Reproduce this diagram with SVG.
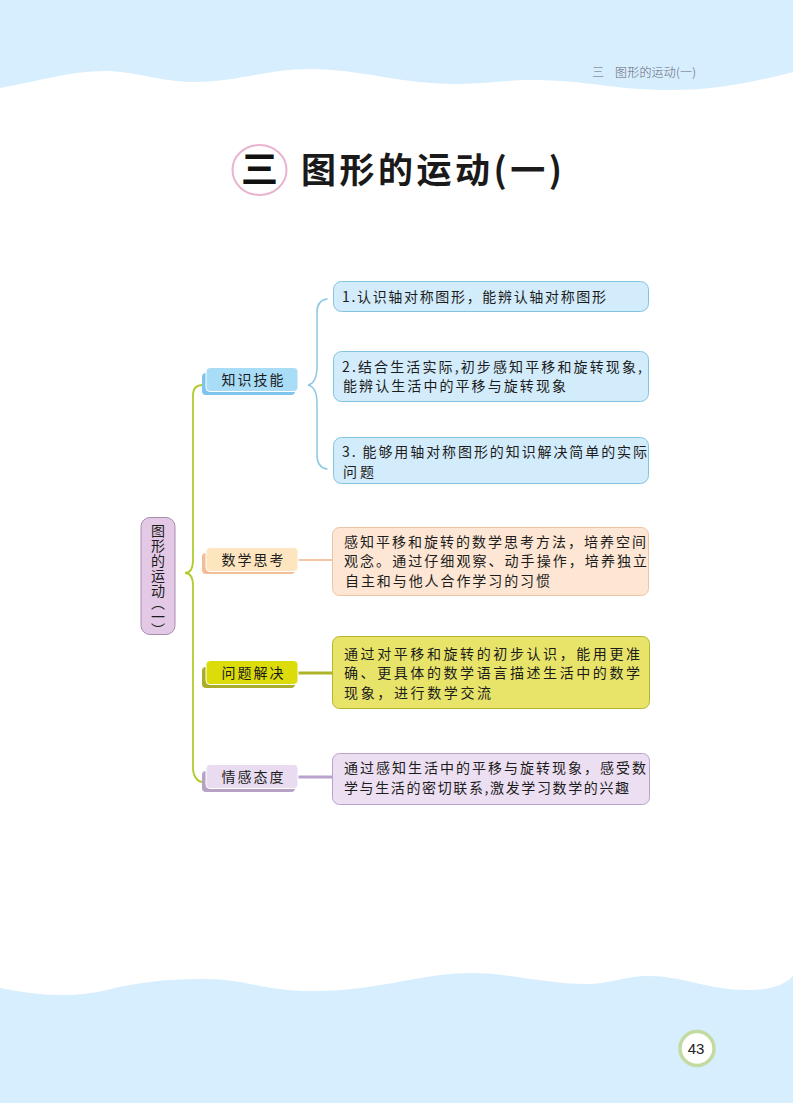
<svg xmlns="http://www.w3.org/2000/svg" width="793" height="1103" viewBox="0 0 793 1103">
<style>
text{font-family:"Noto Sans CJK SC","Noto Sans",sans-serif;fill:#1c1c1c;font-size:14px}
.t{font-size:14px;font-weight:400}
.c{fill:none;stroke-linecap:round}
.wave{fill:#d6eefd}
.lab{text-anchor:middle;font-size:14px}
.front{stroke:#fff;stroke-width:1}
</style>
<path class="wave" d="M0 0H793V72C755 82 715 90 672 90C610 90 590 80 530 80C505 80 490 84 455 84C400 84 360 69 310 69C265 69 240 82 195 82C160 82 135 71 104 71C70 71 35 82 0 88Z"/>
<path class="wave" d="M0 988C20 992 40 995 60 995C80 995 95 993 111 989C135 983 165 979 202 979C250 979 260 991 314 991C380 991 420 973 471 973C510 973 545 984 587 984C610 984 625 976 648 976C685 976 705 990 749 990C770 990 785 985 793 976V1103H0Z"/>
<text x="592" y="77" style="font-size:12px;font-weight:300;fill:#667">三</text>
<text x="615" y="77" textLength="81" style="font-size:12px;font-weight:300;fill:#667">图形的运动(一)</text>
<g id="title">
<ellipse cx="259.500" cy="170" rx="27" ry="25" fill="#fff" stroke="#e9b3cf" stroke-width="2"/>
<text x="259.500" y="183" text-anchor="middle" style="font-size:37px;font-weight:700;fill:#111">三</text>
<text x="301" y="183" textLength="261" style="font-size:35px;font-weight:700;fill:#1a1a1a">图形的运动(一)</text>
</g>
<g id="connectors">
<path class="c" stroke="#b2cc2e" stroke-width="1.800" d="M203 385C197 385 193 388 193 395V560C193 570 190 573 185 573C190 573 193 576 193 586V768C193 776 197 781 202 782"/>
<path class="c" stroke="#8cc7e4" stroke-width="1.500" d="M327 299C320 300 317 304 317 312V366C317 378 313 384 308 385C313 386 317 392 317 404V455C317 463 320 468 327 469"/>
<path stroke="#f2c6a6" stroke-width="2" d="M298 560H332"/>
<path stroke="#aeb42a" stroke-width="3" d="M298 673H332"/>
<path stroke="#b9a2cb" stroke-width="3" d="M298 777H332"/>
</g>
<g id="root">
<rect x="141" y="517.500" width="34" height="117" rx="9" fill="#e3c9e6" stroke="#a98ab0" stroke-width="1"/>
<text x="158" y="524 539 554 569 584 596 610 623" writing-mode="vertical-rl">图形的运动（一）</text>
</g>
<g id="n-zhishi">
<rect x="202" y="373" width="93" height="22" rx="4" fill="#7fc4ec"/>
<rect class="front" x="206" y="367.500" width="92" height="24" rx="4" fill="#a9dcf7"/>
<text class="lab" x="252.500" y="385" textLength="62">知识技能</text>
</g>
<g id="n-shuxue">
<rect x="202" y="553" width="93" height="21" rx="4" fill="#f3bd98"/>
<rect class="front" x="206" y="547.500" width="92" height="24" rx="4" fill="#fde5bf"/>
<text class="lab" x="252.500" y="565" textLength="62">数学思考</text>
</g>
<g id="n-wenti">
<rect x="202" y="667" width="93" height="21" rx="4" fill="#a9ad28"/>
<rect class="front" x="206" y="660.500" width="92" height="24" rx="4" fill="#dcdc0a"/>
<text class="lab" x="252.500" y="678" textLength="62">问题解决</text>
</g>
<g id="n-qinggan">
<rect x="202" y="771" width="93" height="21" rx="4" fill="#b7a2c6"/>
<rect class="front" x="206" y="764.500" width="92" height="24" rx="4" fill="#e9dcf0"/>
<text class="lab" x="252.500" y="782" textLength="62">情感态度</text>
</g>
<g id="b1">
<rect x="333.500" y="281.500" width="315" height="30" rx="8" fill="#d3ecfb" stroke="#82c4e0"/>
<text class="t" x="342" y="302" textLength="264">1.认识轴对称图形，能辨认轴对称图形</text>
</g>
<g id="b2">
<rect x="333.500" y="351.500" width="315" height="50" rx="8" fill="#d3ecfb" stroke="#82c4e0"/>
<text class="t" x="342" y="372" textLength="300">2.结合生活实际,初步感知平移和旋转现象,</text>
<text class="t" x="343" y="391" textLength="223">能辨认生活中的平移与旋转现象</text>
</g>
<g id="b3">
<rect x="333.500" y="437.500" width="315" height="46" rx="8" fill="#d3ecfb" stroke="#82c4e0"/>
<text class="t" x="342" y="457" textLength="305">3. 能够用轴对称图形的知识解决简单的实际</text>
<text class="t" x="343" y="477" textLength="31">问题</text>
</g>
<g id="b4">
<rect x="332.500" y="527.500" width="316" height="68" rx="7" fill="#fde6d3" stroke="#eec3a3"/>
<text class="t" x="344" y="547" textLength="302">感知平移和旋转的数学思考方法，培养空间</text>
<text class="t" x="344" y="566" textLength="303">观念。通过仔细观察、动手操作，培养独立</text>
<text class="t" x="345" y="586" textLength="205">自主和与他人合作学习的习惯</text>
</g>
<g id="b5">
<rect x="332.500" y="636.500" width="317" height="72" rx="7" fill="#e8e46a" stroke="#b5b52c"/>
<text class="t" x="344" y="659" textLength="296">通过对平移和旋转的初步认识，能用更准</text>
<text class="t" x="344" y="678" textLength="296">确、更具体的数学语言描述生活中的数学</text>
<text class="t" x="344" y="698" textLength="147">现象，进行数学交流</text>
</g>
<g id="b6">
<rect x="332.500" y="753.500" width="317" height="51" rx="7" fill="#ecdff2" stroke="#b9a2cb"/>
<text class="t" x="344" y="773" textLength="302">通过感知生活中的平移与旋转现象，感受数</text>
<text class="t" x="344" y="793" textLength="285">学与生活的密切联系,激发学习数学的兴趣</text>
</g>
<g id="page">
<circle cx="697" cy="1048.500" r="17" fill="#fff" stroke="#c3dba0" stroke-width="3.500"/>
<text x="696" y="1054" text-anchor="middle" style="font-family:'Liberation Sans',sans-serif;font-size:15px;fill:#222">43</text>
</g>
</svg>
